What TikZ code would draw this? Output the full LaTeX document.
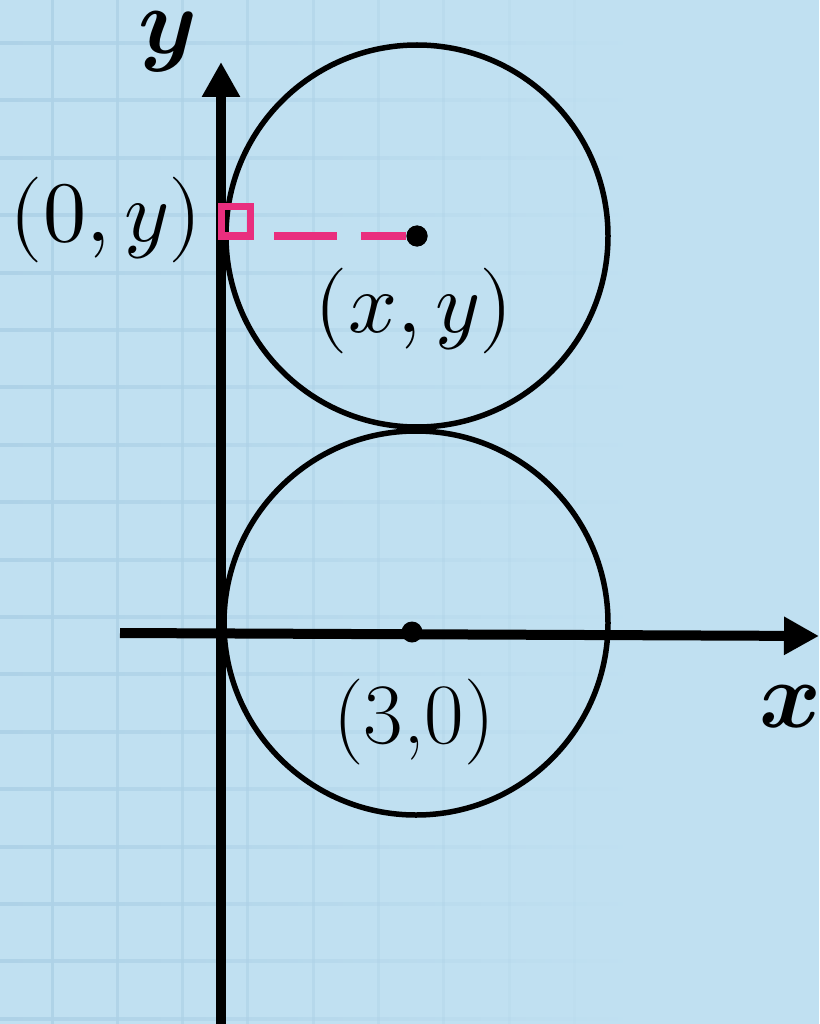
\documentclass[tikz,border=0pt]{standalone}
\usepackage{unicode-math}
\setmathfont{Latin Modern Math}
\usetikzlibrary{arrows.meta}
\definecolor{bg}{RGB}{192,224,241}
\definecolor{gridc}{RGB}{174,210,231}
\definecolor{pinkc}{RGB}{233,46,126}
\begin{document}
\begin{tikzpicture}[x=1pt,y=-1pt,
  axis/.style={line width=10pt,-{Triangle[width=36pt,length=35pt]}},
  circ/.style={line width=5.5pt},
  dot/.style={circle,fill=black,inner sep=0pt,minimum size=21pt},
  lab/.style={font=\fontsize{86}{94}\selectfont,inner sep=0pt,anchor=base},
  axlab/.style={font=\fontsize{94}{100}\selectfont,inner sep=0pt,anchor=base},
  rmark/.style={pinkc,line width=7pt},
  gridline/.style={line width=3pt}]
\fill[bg] (0,0) rectangle (819,1024);
\useasboundingbox (0,0) rectangle (819,1024);
% grid
\foreach \k in {0,...,17}{
  \pgfmathsetmacro\yy{43+57.4*\k}
  \shade[left color=gridc,right color=bg] (0,\yy-1.5) rectangle (640,\yy+1.5);
}
\foreach \k in {0,...,9}{
  \pgfmathsetmacro\xx{52+65.3*\k}
  \pgfmathsetmacro\op{max(0,1-\xx/640)}
  \draw[gridline,gridc,opacity=\op] (\xx,0) -- (\xx,1024);
}
% circles
\coordinate (C1) at (417,236);
\coordinate (C2) at (416,623);
\draw[circ] (C1) circle[radius=191pt];
\draw[circ] (C2) circle[radius=192pt];
% axes
\coordinate (Yb) at (221,1024);
\coordinate (Yt) at (221,62);
\coordinate (Xl) at (120,633);
\coordinate (Xr) at (819,636);
\draw[axis] (Yb) -- (Yt);
\draw[axis] (Xl) -- (Xr);
% right-angle mark and dashed segment
\coordinate (S1) at (221,207);
\coordinate (S2) at (250,236);
\node[dot] (P1) at (C1) {};
\draw[rmark] (S1) rectangle (S2);
\draw[rmark,dash pattern=on 63pt off 24pt,dash phase=63pt] (S2) -- (P1);
\node[dot] (P1b) at (C1) {};
\node[dot] (P2) at (412,632) {};
% labels
\node[lab] (L0y) at (106,241) {$(0,y)$};
\node[lab] (Lxy) at (414,332) {$(x,y)$};
\node[lab] (L30) at (414,743) {(3,0)};
\node[axlab] (Ly) at (167,54) {$\symbfit{y}$};
\node[axlab] (Lx) at (790,727) {$\symbfit{x}$};
\end{tikzpicture}
\end{document}
